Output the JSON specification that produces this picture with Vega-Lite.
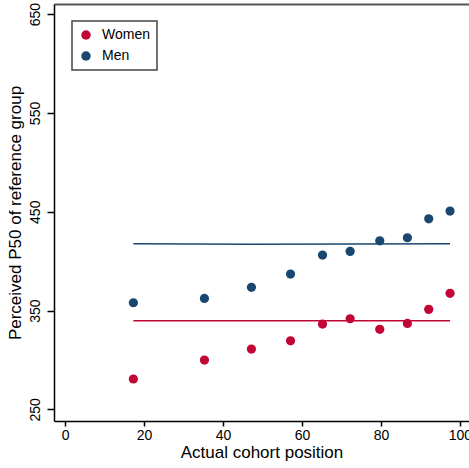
{
  "$schema": "https://vega.github.io/schema/vega-lite/v6.json",
  "width": 415,
  "height": 417,
  "autosize": {"type": "none"},
  "padding": {"left": 54, "top": 4, "right": 0, "bottom": 47},
  "background": "white",
  "config": {
    "view": {"stroke": null},
    "font": "Liberation Sans",
    "axis": {"grid": false, "domainColor": "black", "tickColor": "black", "labelColor": "black", "titleColor": "black", "titleFontWeight": "normal", "labelFont": "Liberation Sans", "titleFont": "Liberation Sans"},
    "legend": {"labelFont": "Liberation Sans", "strokeWidth": 1.5}
  },
  "datasets": {
    "points": [
      {"group": "Women", "position": 17.3, "p50": 280.7},
      {"group": "Women", "position": 35.3, "p50": 299.9},
      {"group": "Women", "position": 47.2, "p50": 311.0},
      {"group": "Women", "position": 57.1, "p50": 319.4},
      {"group": "Women", "position": 65.2, "p50": 336.3},
      {"group": "Women", "position": 72.2, "p50": 341.7},
      {"group": "Women", "position": 79.7, "p50": 331.0},
      {"group": "Women", "position": 86.7, "p50": 337.0},
      {"group": "Women", "position": 92.1, "p50": 351.2},
      {"group": "Women", "position": 97.5, "p50": 367.4},
      {"group": "Men", "position": 17.3, "p50": 357.9},
      {"group": "Men", "position": 35.3, "p50": 362.3},
      {"group": "Men", "position": 47.2, "p50": 373.5},
      {"group": "Men", "position": 57.1, "p50": 386.9},
      {"group": "Men", "position": 65.2, "p50": 406.2},
      {"group": "Men", "position": 72.2, "p50": 409.9},
      {"group": "Men", "position": 79.7, "p50": 420.6},
      {"group": "Men", "position": 86.7, "p50": 423.7},
      {"group": "Men", "position": 92.1, "p50": 442.9},
      {"group": "Men", "position": 97.5, "p50": 450.7}
    ],
    "fits": [
      {"group": "Women", "position": 17.3, "p50": 339.7},
      {"group": "Women", "position": 97.5, "p50": 339.7},
      {"group": "Men", "position": 17.3, "p50": 417.6},
      {"group": "Men", "position": 47.2, "p50": 417.2},
      {"group": "Men", "position": 97.5, "p50": 417.5}
    ]
  },
  "layer": [
    {
      "data": {"name": "points"},
      "mark": {"type": "circle", "size": 85, "opacity": 1},
      "encoding": {
        "x": {"field": "position", "type": "quantitative", "scale": {"domain": [-2.8, 102.3], "nice": false, "zero": false},
          "axis": {"orient": "bottom", "values": [0, 20, 40, 60, 80, 100], "title": "Actual cohort position", "domainWidth": 1.5, "tickWidth": 1.5, "tickSize": 5, "labelFontSize": 14, "labelPadding": 2, "titleFontSize": 17, "titlePadding": 2, "labelFlush": false, "labelOverlap": false}},
        "y": {"field": "p50", "type": "quantitative", "scale": {"domain": [238.2, 660.3], "nice": false, "zero": false},
          "axis": {"values": [250, 350, 450, 550, 650], "title": "Perceived P50 of reference group", "domainWidth": 1.5, "tickWidth": 1.5, "tickSize": 7, "labelFontSize": 14, "labelAngle": -90, "labelAlign": "center", "labelBaseline": "bottom", "labelPadding": 5, "titleFontSize": 17, "titlePadding": 4, "labelFlush": false, "labelOverlap": false}},
        "color": {"field": "group", "type": "nominal", "scale": {"domain": ["Women", "Men"], "range": ["#c10534", "#1a476f"]},
          "legend": {"title": null, "orient": "none", "legendX": 18, "legendY": 17, "strokeColor": "#444444", "fillColor": "white", "padding": 7, "symbolType": "circle", "symbolSize": 90, "symbolStrokeWidth": 0, "labelFontSize": 14, "labelOffset": 9, "rowPadding": 7, "labelColor": "black"}}
      }
    },
    {
      "data": {"name": "fits"},
      "mark": {"type": "line", "strokeWidth": 1.5},
      "encoding": {
        "x": {"field": "position", "type": "quantitative", "scale": {"domain": [-2.8, 102.3], "nice": false, "zero": false},
          "axis": {"orient": "top", "labels": false, "ticks": false, "title": null, "domainColor": "#555555", "domainWidth": 2}},
        "y": {"field": "p50", "type": "quantitative", "scale": {"domain": [238.2, 660.3], "nice": false, "zero": false}},
        "color": {"field": "group", "type": "nominal", "scale": {"domain": ["Women", "Men"], "range": ["#c10534", "#1a476f"]}}
      }
    }
  ],
  "resolve": {"axis": {"x": "independent"}}
}
